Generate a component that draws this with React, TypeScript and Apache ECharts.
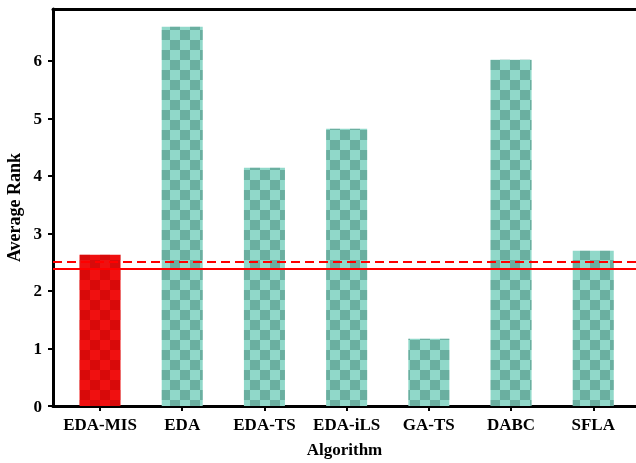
import React, { useEffect, useRef } from "react";
import * as echarts from "echarts";

const categories = ["EDA-MIS", "EDA", "EDA-TS", "EDA-iLS", "GA-TS", "DABC", "SFLA"];
const avgRank = [2.63, 6.59, 4.14, 4.82, 1.17, 6.02, 2.70];
const dashedLineValue = 2.5;
const solidLineValue = 2.38;
const yTicks = [0, 1, 2, 3, 4, 5, 6];
const xTicks = categories.map((_, i) => i);

const font = "'Liberation Serif', 'Times New Roman', serif";

export default function App() {
  const ref = useRef<HTMLDivElement>(null);
  useEffect(() => {
    const chart = echarts.init(ref.current!, undefined, { renderer: "svg" });
    const cell = 10;
    const decalTeal = {
      symbol: "rect",
      symbolSize: 1,
      color: "rgba(60,125,112,0.45)",
      dashArrayX: [[cell, cell], [0, cell, cell, 0]],
      dashArrayY: [cell, 0],
      rotation: 0,
    };
    const decalRed = {
      symbol: "rect",
      symbolSize: 1,
      color: "rgba(170,0,0,0.35)",
      dashArrayX: [[cell, cell], [0, cell, cell, 0]],
      dashArrayY: [cell, 0],
      rotation: 0,
    };
    const xMin = -0.572;
    const xMax = 6.52;
    chart.setOption({
      animation: false,
      grid: {
        left: 53,
        right: 0,
        top: 9,
        bottom: 57,
        containLabel: false,
        outerBoundsMode: "none",
        show: false,
      },
      xAxis: [
        {
          type: "value",
          min: xMin,
          max: xMax,
          name: "Algorithm",
          nameLocation: "middle",
          nameGap: 35,
          nameTextStyle: { fontFamily: font, fontWeight: "bold", fontSize: 17, color: "#000" },
          axisLine: { show: true, onZero: false, lineStyle: { color: "#000", width: 3 } },
          axisTick: { show: true, length: 5, lineStyle: { color: "#000", width: 2 }, customValues: xTicks },
          axisLabel: {
            fontFamily: font,
            fontWeight: "bold",
            fontSize: 17,
            color: "#000",
            margin: 10,
            customValues: xTicks,
            formatter: (v: number) => categories[Math.round(v)] ?? "",
          },
          splitLine: { show: false },
        },
        {
          type: "value",
          min: xMin,
          max: xMax,
          position: "top",
          axisLine: { show: true, onZero: false, lineStyle: { color: "#000", width: 3 } },
          axisTick: { show: false },
          axisLabel: { show: false },
          splitLine: { show: false },
        },
      ],
      yAxis: {
        type: "value",
        min: 0,
        max: 6.9,
        interval: 1,
        name: "Average Rank",
        nameLocation: "middle",
        nameGap: 30,
        nameTextStyle: { fontFamily: font, fontWeight: "bold", fontSize: 18, color: "#000" },
        axisLine: { show: true, onZero: false, lineStyle: { color: "#000", width: 3 } },
        axisTick: { show: true, length: 5, lineStyle: { color: "#000", width: 2 }, customValues: yTicks },
        axisLabel: {
          fontFamily: font,
          fontWeight: "bold",
          fontSize: 17,
          color: "#000",
          margin: 11,
          customValues: yTicks,
        },
        splitLine: { show: false },
      },
      series: [
        {
          type: "bar",
          barWidth: 41,
          data: avgRank.map((v, i) =>
            i === 0
              ? { value: [i, v], itemStyle: { color: "#f01010", decal: decalRed } }
              : { value: [i, v], itemStyle: { color: "#90d8c9", decal: decalTeal } }
          ),
          markLine: {
            silent: true,
            symbol: "none",
            label: { show: false },
            data: [
              { yAxis: dashedLineValue, lineStyle: { color: "#ff0000", type: [9, 5], width: 2 } },
              { yAxis: solidLineValue, lineStyle: { color: "#ff0000", type: "solid", width: 2 } },
            ],
          },
        },
      ],
    });
    return () => chart.dispose();
  }, []);
  return <div ref={ref} style={{ position: "fixed", left: 0, top: 0, width: 636, height: 463 }} />;
}
